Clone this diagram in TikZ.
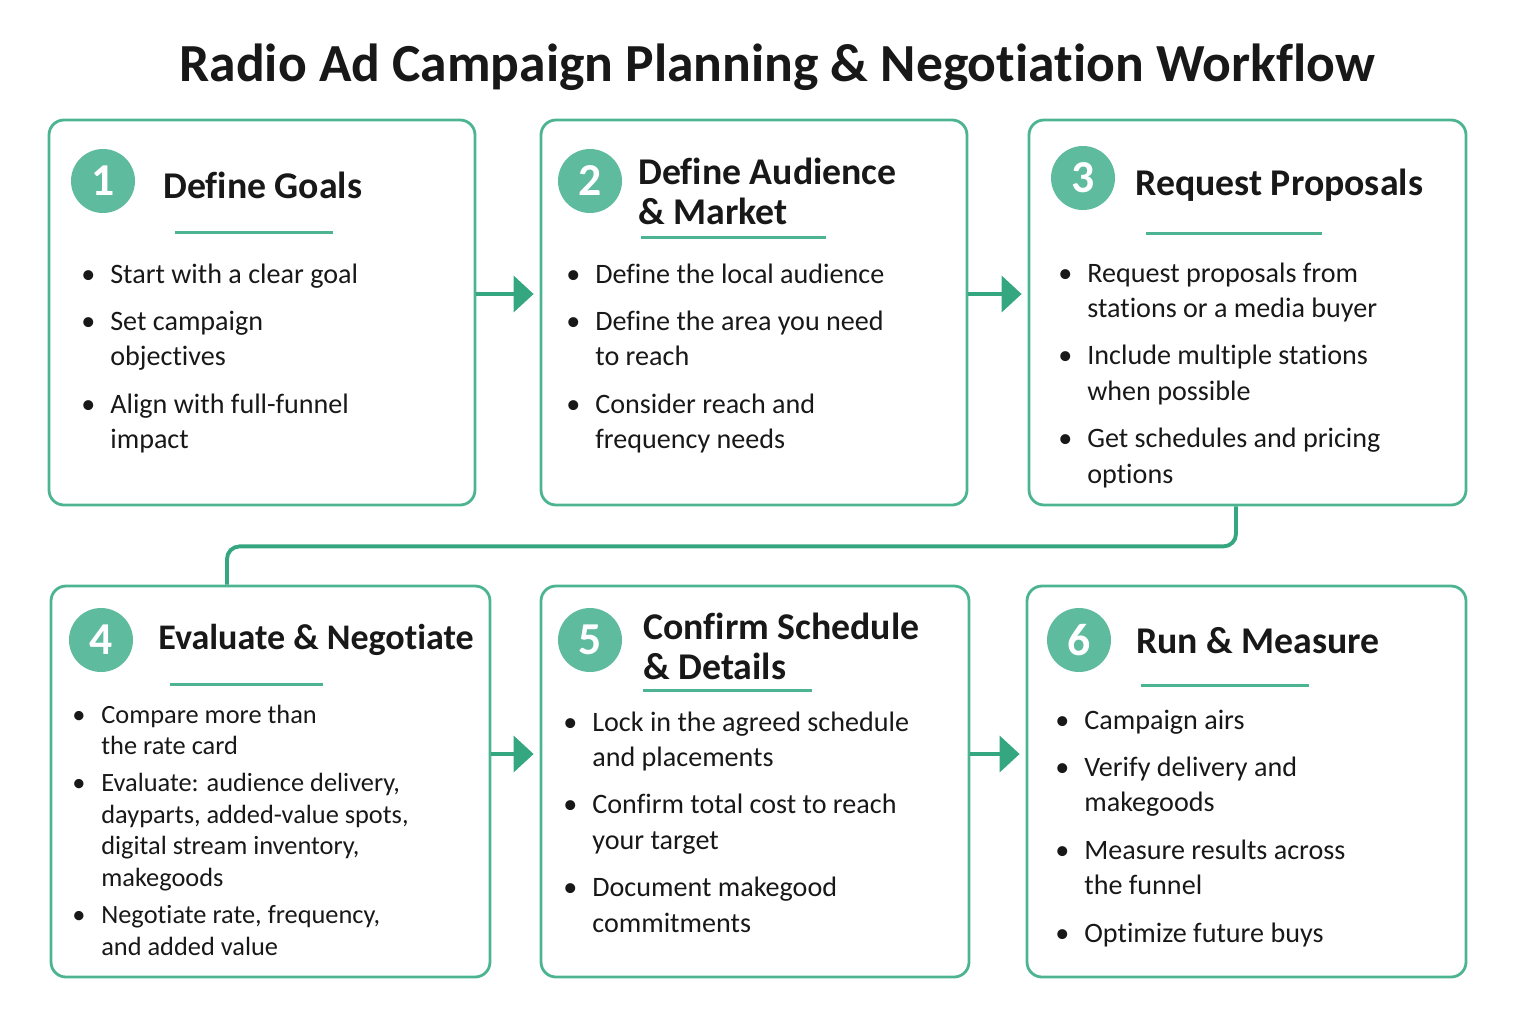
\documentclass[tikz,border=0pt]{standalone}
\usepackage{fontspec}
\setmainfont{Carlito}[Ligatures=NoCommon]
\usetikzlibrary{arrows.meta,fit}
\definecolor{verde}{RGB}{76,180,146}
\definecolor{verdeosc}{RGB}{52,166,128}
\definecolor{tinta}{RGB}{24,24,24}
\newcommand\itm{\makebox[16.5pt][l]{\textbullet}}
\tikzset{
  tarjeta/.style={draw=verde, line width=1.6pt, rounded corners=3mm, inner sep=0pt},
  numero/.style={circle, fill=verde!90!white, text=white, minimum size=12.8mm, inner sep=0pt, font=\fontsize{26}{26}\selectfont\bfseries},
  cabecera/.style={anchor=west, align=left, inner sep=0pt, text=tinta, font=\fontsize{21.5}{22.8}\selectfont\bfseries},
  raya/.style={verde, line width=1.7pt},
  lista/.style={anchor=base west, inner sep=0pt, text=tinta, font=\fontsize{16}{20.2}\selectfont},
  flujo/.style={verdeosc, line width=2.2pt, -{Triangle[length=4mm,width=7.2mm]}, shorten >=1.2mm},
  enlace/.style={verdeosc, line width=2.2pt, rounded corners=2.5mm}
}
\begin{document}
\begin{tikzpicture}[x=0.2mm, y=-0.2mm]
\useasboundingbox (0,0) rectangle (1516,1024);
% Titulo
\node[font=\fontsize{30.5}{31}\selectfont\bfseries, text=tinta] (tit) at (777,67) {Radio Ad Campaign Planning \& Negotiation Workflow};

% Tarjetas
\node[tarjeta, fit={(49,120) (475,505)}] (b1) {};
\node[tarjeta, fit={(541,120) (967,505)}] (b2) {};
\node[tarjeta, fit={(1029,120) (1466,505)}] (b3) {};
\node[tarjeta, fit={(51,586) (490,977)}] (b4) {};
\node[tarjeta, fit={(541,586) (969,977)}] (b5) {};
\node[tarjeta, fit={(1027,586) (1466,977)}] (b6) {};

% Paso 1
\node[numero] (n1) at (103,181) {1};
\node[cabecera] (h1) at (163,185) {Define Goals};
\draw[raya] (175,232) -- (333,232);
\node[lista] (l1) at (81,283) {\begin{tabular}[t]{@{}l@{}l@{}}
\itm & Start with a clear goal\\[6.8pt]
\itm & Set campaign\\ & objectives\\[6.8pt]
\itm & Align with full-funnel\\ & impact
\end{tabular}};

% Paso 2
\node[numero] (n2) at (590,181) {2};
\node[cabecera] (h2) at (638,191) {Define Audience\\\& Market};
\draw[raya] (641,237) -- (826,237);
\node[lista] (l2) at (566,283) {\begin{tabular}[t]{@{}l@{}l@{}}
\itm & Define the local audience\\[6.8pt]
\itm & Define the area you need\\ & to reach\\[6.8pt]
\itm & Consider reach and\\ & frequency needs
\end{tabular}};

% Paso 3
\node[numero] (n3) at (1083,178) {3};
\node[cabecera] (h3) at (1135,185) {Request Proposals};
\draw[raya] (1146,233) -- (1322,233);
\node[lista] (l3) at (1058,282) {\begin{tabular}[t]{@{}l@{}l@{}}
\itm & Request proposals from\\ & stations or a media buyer\\[6.8pt]
\itm & Include multiple stations\\ & when possible\\[6.8pt]
\itm & Get schedules and pricing\\ & options
\end{tabular}};

% Paso 4
\node[numero] (n4) at (101,640) {4};
\node[cabecera, font=\fontsize{20.5}{22}\selectfont\bfseries] (h4) at (158,640) {Evaluate \& Negotiate};
\draw[raya] (170,684) -- (323,684);
\node[lista, font=\fontsize{15}{17.9}\selectfont] (l4) at (72,723) {\begin{tabular}[t]{@{}l@{}l@{}}
\itm & Compare more than\\ & the rate card\\[3.4pt]
\itm & Evaluate: audience delivery,\\ & dayparts, added-value spots,\\ & digital stream inventory,\\ & makegoods\\[3.4pt]
\itm & Negotiate rate, frequency,\\ & and added value
\end{tabular}};

% Paso 5
\node[numero] (n5) at (590,640) {5};
\node[cabecera] (h5) at (643,646) {Confirm Schedule\\\& Details};
\draw[raya] (643,690) -- (812,690);
\node[lista] (l5) at (563,731) {\begin{tabular}[t]{@{}l@{}l@{}}
\itm & Lock in the agreed schedule\\ & and placements\\[6.8pt]
\itm & Confirm total cost to reach\\ & your target\\[6.8pt]
\itm & Document makegood\\ & commitments
\end{tabular}};

% Paso 6
\node[numero] (n6) at (1079,640) {6};
\node[cabecera] (h6) at (1136,641) {Run \& Measure};
\draw[raya] (1141,685) -- (1309,685);
\node[lista] (l6) at (1055,729) {\begin{tabular}[t]{@{}l@{}l@{}}
\itm & Campaign airs\\[6.8pt]
\itm & Verify delivery and\\ & makegoods\\[6.8pt]
\itm & Measure results across\\ & the funnel\\[6.8pt]
\itm & Optimize future buys
\end{tabular}};

% Flechas
\draw[flujo] ([yshift=3.7mm]b1.east) -- ([yshift=3.7mm]b2.west);
\draw[flujo] ([yshift=3.7mm]b2.east) -- ([yshift=3.7mm]b3.west);
\draw[enlace] ([xshift=-2.3mm]b3.south) -- ++(0,40) -| ([xshift=-8.7mm]b4.north);
\draw[flujo] ([yshift=5.5mm]b4.east) -- ([yshift=5.5mm]b5.west);
\draw[flujo] ([yshift=5.5mm]b5.east) -- ([yshift=5.5mm]b6.west);
\end{tikzpicture}
\end{document}
